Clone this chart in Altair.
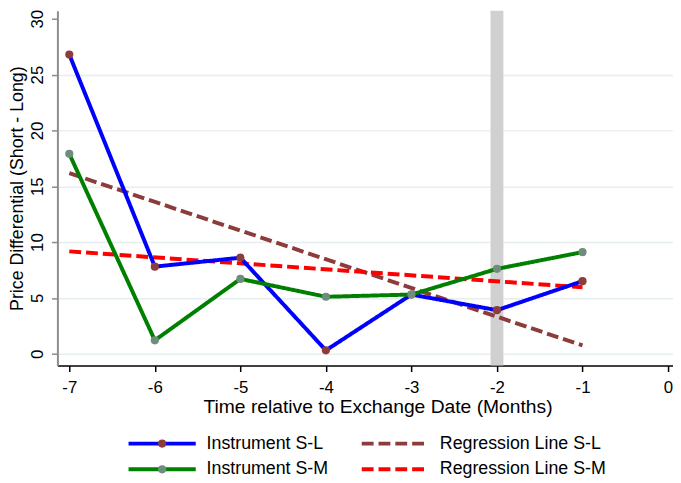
import altair as alt
import pandas as pd

# ---------------- data ----------------
months = [-7, -6, -5, -4, -3, -2, -1]
instrument_sl = [26.8, 7.8, 8.6, 0.3, 5.3, 3.9, 6.5]
instrument_sm = [17.9, 1.2, 6.7, 5.1, 5.3, 7.6, 9.1]
event_month = [-2]

series_names = ["Instrument S-L", "Regression Line S-L", "Instrument S-M", "Regression Line S-M"]
series_colors = ["#0000ff", "#8e3b3b", "#008000", "#ff0000"]
series_dashes = [[1, 0], [12, 5], [1, 0], [12, 5]]
dot_names = ["Instrument S-L", "Instrument S-M"]
dot_colors = ["#8e3b3b", "#6f8c7f"]
x_ticks = [-7, -6, -5, -4, -3, -2, -1, 0]
y_ticks = [0, 5, 10, 15, 20, 25, 30]
x_title = "Time relative to Exchange Date (Months)"
y_title = "Price Differential (Short - Long)"

rows = []
for m, v in zip(months, instrument_sl):
    rows.append({"month": m, "value": v, "series": "Instrument S-L",
                 "fit": "Regression Line S-L", "dot": "Instrument S-L"})
for m, v in zip(months, instrument_sm):
    rows.append({"month": m, "value": v, "series": "Instrument S-M",
                 "fit": "Regression Line S-M", "dot": "Instrument S-M"})
df = pd.DataFrame(rows)
band_df = pd.DataFrame({"month": event_month})

FONT = "Liberation Sans"

x_scale = alt.Scale(domain=[-7.139, 0.058], nice=False, zero=False)
y_scale = alt.Scale(domain=[-1.06, 30.71], nice=False, zero=False)

x_axis = alt.Axis(
    values=x_ticks, labelExpr="toString(datum.value)", title=x_title,
    domainColor="#000000", domainWidth=1.5, tickColor="#000000", tickWidth=1.5, tickSize=6,
    labelFont=FONT, labelFontSize=17, labelColor="#000000", labelBaseline="alphabetic",
    labelPadding=21, labelAlign="center",
    titleFont=FONT, titleFontSize=19.5, titleFontWeight="normal", titleColor="#000000",
    titleBaseline="alphabetic", titleY=48, titleX=324, titleAlign="center", grid=False,
)
y_axis = alt.Axis(
    values=y_ticks, labelExpr="toString(datum.value)", title=y_title,
    domainColor="#8c8c8c", domainWidth=2, tickColor="#8c8c8c", tickWidth=1.5, tickSize=6,
    labelFont=FONT, labelFontSize=17, labelColor="#000000", labelAngle=270,
    labelAlign="center", labelBaseline="alphabetic", labelPadding=9,
    grid=True, gridColor="#e6eeee", gridWidth=1.5,
    gridOpacity={"condition": {"test": "datum.value >= 30", "value": 0}, "value": 1},
    titleFont=FONT, titleFontSize=18, titleFontWeight="normal", titleColor="#000000",
    titleAngle=270, titleBaseline="alphabetic", titleX=-35, titleAlign="center",
)

X = alt.X("month:Q", scale=x_scale, axis=x_axis)
Y = alt.Y("value:Q", scale=y_scale, axis=y_axis)

main_legend = alt.Legend(
    orient="none", legendX=70, legendY=426, columns=2, columnPadding=31, rowPadding=2,
    direction="horizontal", values=series_names,
    clipHeight=24, symbolType="stroke", symbolSize=4624, symbolStrokeWidth=4,
    labelOffset=9, labelFont=FONT, labelFontSize=18, labelColor="#000000", labelLimit=400,
    title=None, padding=0,
)
color = alt.Color("series:N", scale=alt.Scale(domain=series_names, range=series_colors),
                  sort=series_names, legend=main_legend)
dash = alt.StrokeDash("series:N", scale=alt.Scale(domain=series_names, range=series_dashes),
                      sort=series_names, legend=main_legend)

band = alt.Chart(band_df).mark_rule(color="#d0d0d0", strokeWidth=13).encode(x=X)

regression = (
    alt.Chart(df)
    .transform_regression("month", "value", groupby=["fit"])
    .transform_calculate(series="datum.fit")
    .mark_line(strokeWidth=4)
    .encode(x=X, y=Y, color=color, strokeDash=dash)
)

lines = (
    alt.Chart(df)
    .mark_line(strokeWidth=4, strokeJoin="round")
    .encode(x=X, y=Y, color=color, strokeDash=dash)
)

dot_legend = alt.Legend(
    orient="none", legendX=70, legendY=426, columns=1, rowPadding=2, clipHeight=24,
    direction="vertical", values=dot_names,
    symbolType="circle", symbolSize=68, symbolOffset=27, symbolStrokeWidth=0,
    symbolOpacity=1, labelExpr="''", labelFont=FONT, labelFontSize=18,
    title=None, padding=0,
)
dots = (
    alt.Chart(df)
    .mark_circle(size=68, opacity=1)
    .encode(x=X, y=Y,
            fill=alt.Fill("dot:N", scale=alt.Scale(domain=dot_names, range=dot_colors),
                          legend=dot_legend))
)

chart = (
    alt.layer(band, regression, lines, dots)
    .properties(
        width=623, height=359,
        autosize=alt.AutoSizeParams(type="none"),
        padding={"left": 50, "top": 0, "right": 0, "bottom": 116},
        background="#ffffff",
    )
    .configure_view(stroke=None)
)

chart.save("out.html", embed_options={"renderer": "svg", "actions": False})
